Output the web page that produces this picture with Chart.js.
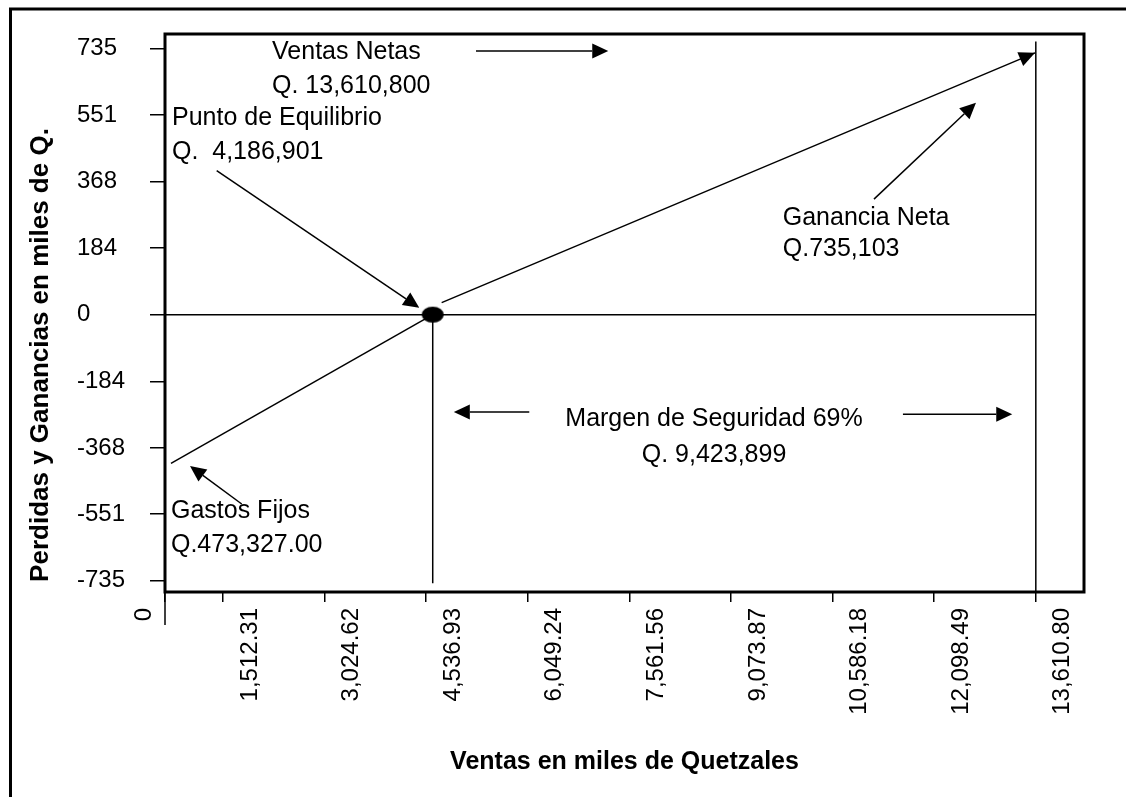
<!DOCTYPE html>
<html>
<head>
<meta charset="utf-8">
<script src="https://cdn.jsdelivr.net/npm/chart.js@4.4.1/dist/chart.umd.min.js"></script>
<style>
  html, body { margin: 0; padding: 0; background: #fff; }
  #wrap { width: 1126px; height: 797px; position: relative; }
</style>
</head>
<body>
<div id="wrap"><canvas id="chart"></canvas></div>
<script>
// axis ranges, in thousands of quetzales
const xMin = 649;
const xMax = 14328;
const yMin = -766;
const yMax = 775;

const xTickValues = [1512.31, 3024.62, 4536.93, 6049.24, 7561.56, 9073.87, 10586.18, 12098.49, 13610.80];
const xTickLabels = ["0", "1,512.31", "3,024.62", "4,536.93", "6,049.24", "7,561.56", "9,073.87", "10,586.18", "12,098.49", "13,610.80"];
const yTickValues = [-735, -551, -368, -184, 0, 184, 368, 551, 735];

// lines of the drawing
const zeroLine = [{ x: xMin, y: 0 }, { x: 13610.8, y: 0 }];
const lossLine = [{ x: 738, y: -411 }, { x: 4634, y: 0 }];
const profitLine = [{ x: 4767, y: 33 }, { x: 13599, y: 723 }];
const breakevenDrop = [{ x: 4634, y: 0 }, { x: 4634, y: -742 }];
const salesLine = [{ x: 13610.8, y: 754 }, { x: 13610.8, y: yMin }];
const breakevenPoint = [{ x: 4634, y: 0 }];

// arrows: [fromX, fromY, toX, toY]
const arrows = [
  [5278, 728, 7247, 728],
  [1418, 398, 4434, 19],
  [11202, 319, 12720, 585],
  [6071, -269, 4948, -269],
  [11633, -275, 13260, -275],
  [1791, -523, 1021, -418]
];

// notes: text, x, baseline y, align
const notes = [
  ["Ventas Netas", 2242, 705, "left"],
  ["Q. 13,610,800", 2242, 611, "left"],
  ["Punto de Equilibrio", 753, 524, "left"],
  ["Q.  4,186,901", 753, 429, "left"],
  ["Ganancia Neta", 9844, 248, "left"],
  ["Q.735,103", 9844, 162, "left"],
  ["Margen de Seguridad 69%", 8821, -307, "center"],
  ["Q. 9,423,899", 8821, -406, "center"],
  ["Gastos Fijos", 738, -563, "left"],
  ["Q.473,327.00", 738, -655, "left"]
];

const FONT = "'Liberation Sans', Arial, sans-serif";

// black ellipse used as the point style of the break-even point
const dot = document.createElement("canvas");
dot.width = 24;
dot.height = 18;
const dctx = dot.getContext("2d");
dctx.beginPath();
dctx.ellipse(12, 9, 11, 8, 0, 0, Math.PI * 2);
dctx.fillStyle = "#000";
dctx.fill();

function drawArrow(ctx, x1, y1, x2, y2) {
  const ang = Math.atan2(y2 - y1, x2 - x1);
  const len = 16, half = 7.5;
  const bx = x2 - Math.cos(ang) * len;
  const by = y2 - Math.sin(ang) * len;
  ctx.beginPath();
  ctx.moveTo(x1, y1);
  ctx.lineTo(bx, by);
  ctx.stroke();
  ctx.beginPath();
  ctx.moveTo(x2, y2);
  ctx.lineTo(bx + Math.sin(ang) * half, by - Math.cos(ang) * half);
  ctx.lineTo(bx - Math.sin(ang) * half, by + Math.cos(ang) * half);
  ctx.closePath();
  ctx.fill();
}

const annotations = {
  id: "annotations",
  afterDatasetsDraw(chart) {
    const { ctx, chartArea: a, scales: { x, y } } = chart;
    ctx.save();
    ctx.strokeStyle = "#000";
    ctx.fillStyle = "#000";

    // plot box and outer frame
    ctx.lineWidth = 3;
    ctx.strokeRect(a.left, a.top, a.right - a.left, a.bottom - a.top);
    ctx.beginPath();
    ctx.moveTo(10.5, chart.height);
    ctx.lineTo(10.5, 9);
    ctx.lineTo(chart.width, 9);
    ctx.stroke();

    // the origin tick runs further down than the others
    ctx.lineWidth = 1.5;
    ctx.beginPath();
    ctx.moveTo(a.left, a.bottom);
    ctx.lineTo(a.left, a.bottom + 33);
    ctx.stroke();

    // arrows
    arrows.forEach(([x1, y1, x2, y2]) => {
      drawArrow(ctx, x.getPixelForValue(x1), y.getPixelForValue(y1), x.getPixelForValue(x2), y.getPixelForValue(y2));
    });

    // arrow head at the end of the profit line
    const pts = chart.getDatasetMeta(2).data;
    const p0 = pts[0], p1 = pts[pts.length - 1];
    const ang = Math.atan2(p1.y - p0.y, p1.x - p0.x);
    const bx = p1.x - Math.cos(ang) * 16, by = p1.y - Math.sin(ang) * 16;
    ctx.beginPath();
    ctx.moveTo(p1.x, p1.y);
    ctx.lineTo(bx + Math.sin(ang) * 7.5, by - Math.cos(ang) * 7.5);
    ctx.lineTo(bx - Math.sin(ang) * 7.5, by + Math.cos(ang) * 7.5);
    ctx.closePath();
    ctx.fill();

    // notes
    ctx.font = "25px " + FONT;
    ctx.textBaseline = "alphabetic";
    notes.forEach(([text, nx, ny, align]) => {
      ctx.textAlign = align;
      ctx.fillText(text, x.getPixelForValue(nx), y.getPixelForValue(ny));
    });

    // the origin label of the x axis sits left of its tick
    ctx.save();
    ctx.font = "24px " + FONT;
    ctx.translate(x.getPixelForValue(xMin) - 21, x.top + 16);
    ctx.rotate(-Math.PI / 2);
    ctx.textAlign = "right";
    ctx.textBaseline = "middle";
    ctx.fillText(xTickLabels[0], 0, 0);
    ctx.restore();

    // y axis title
    ctx.save();
    ctx.font = "bold 26px " + FONT;
    ctx.translate(41, 355);
    ctx.rotate(-Math.PI / 2);
    ctx.textAlign = "center";
    ctx.textBaseline = "middle";
    ctx.fillText("Perdidas y Ganancias en miles de Q.", 0, 0);
    ctx.restore();

    ctx.restore();
  }
};

const lineStyle = { borderColor: "#000", borderWidth: 1.5, pointRadius: 0, showLine: true, fill: false };

new Chart(document.getElementById("chart"), {
  type: "scatter",
  data: {
    datasets: [
      { ...lineStyle, data: zeroLine },
      { ...lineStyle, data: lossLine },
      { ...lineStyle, data: profitLine },
      { ...lineStyle, data: breakevenDrop },
      { ...lineStyle, data: salesLine },
      { data: breakevenPoint, showLine: false, pointRadius: 10, pointStyle: dot, backgroundColor: "#000", borderColor: "#000" }
    ]
  },
  options: {
    responsive: true,
    maintainAspectRatio: false,
    animation: false,
    events: [],
    layout: { padding: { left: 77, top: 34, right: 42, bottom: 0 } },
    plugins: { legend: { display: false }, tooltip: { enabled: false } },
    scales: {
      x: {
        type: "linear",
        min: xMin,
        max: xMax,
        afterBuildTicks: (s) => { s.ticks = [xMin, ...xTickValues].map((v) => ({ value: v })); },
        afterFit: (s) => { s.height = 205; },
        ticks: {
          autoSkip: false,
          minRotation: 90,
          maxRotation: 90,
          padding: 6,
          labelOffset: 27,
          color: "#000",
          font: { family: FONT, size: 24 },
          callback: (v, i) => (i === 0 ? "" : xTickLabels[i])
        },
        grid: { drawOnChartArea: false, tickLength: 10, color: "#000", lineWidth: 1.5 },
        border: { display: false },
        title: {
          display: true,
          text: "Ventas en miles de Quetzales",
          color: "#000",
          font: { family: FONT, size: 25, weight: "bold" },
          padding: { bottom: 20 }
        }
      },
      y: {
        type: "linear",
        min: yMin,
        max: yMax,
        afterBuildTicks: (s) => { s.ticks = yTickValues.map((v) => ({ value: v })); },
        afterFit: (s) => { s.width = 88; },
        ticks: {
          crossAlign: "far",
          color: "#000",
          font: { family: FONT, size: 24 },
          callback: (v) => String(v)
        },
        grid: { drawOnChartArea: false, tickLength: 15, color: "#000", lineWidth: 1.5 },
        border: { display: false }
      }
    }
  },
  plugins: [annotations]
});
</script>
</body>
</html>
